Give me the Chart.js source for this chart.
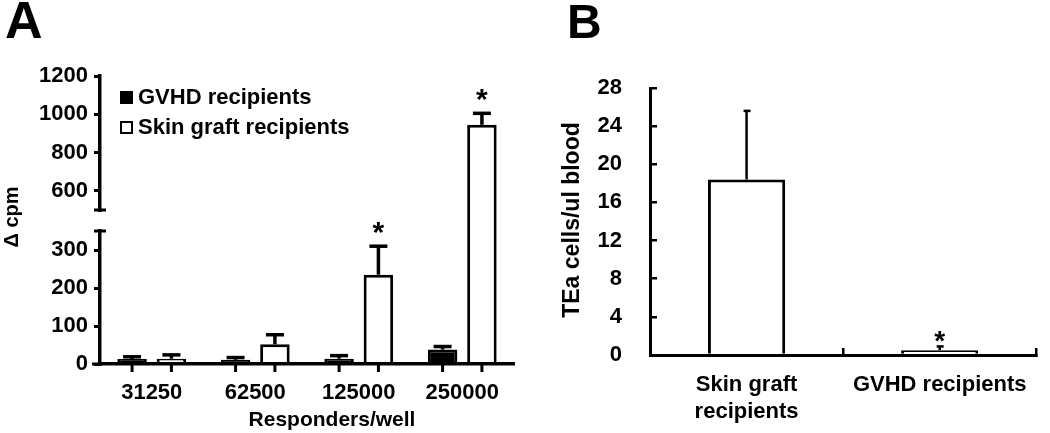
<!DOCTYPE html>
<html>
<head>
<meta charset="utf-8">
<script src="https://cdn.jsdelivr.net/npm/chart.js@4.4.1/dist/chart.umd.min.js"></script>
<style>
  html, body { margin: 0; padding: 0; background: #fff; }
  #wrap { position: relative; width: 1050px; height: 433px; overflow: hidden; }
  .panel { position: absolute; top: 0; height: 433px; }
  #panelA { left: 0; width: 530px; }
  #panelB { left: 530px; width: 520px; }
</style>
</head>
<body>
<div id="wrap">
  <div class="panel" id="panelA"><canvas id="chartA" width="530" height="433"></canvas></div>
  <div class="panel" id="panelB"><canvas id="chartB" width="520" height="433"></canvas></div>
</div>
<script>
// ---- panel A : proliferation (delta cpm) ----
const respondersA = ['31250', '62500', '125000', '250000'];
const gvhdCpm = [13, 11, 14, 38];
const gvhdCpmErr = [6, 6, 8, 8];
const skinCpm = [14, 52, 235, 945];
const skinCpmErr = [10, 25, 75, 60];
const skinStarsA = [false, false, true, true];
const lowTicksA = [0, 100, 200, 300];
const highTicksA = [600, 800, 1000, 1200];

// ---- panel B : TEa cells in blood ----
const groupsB = [['Skin graft', 'recipients'], 'GVHD recipients'];
const teaCells = [18.4, 0.5];
const teaCellsErr = [7.2, 0.4];
const starsB = [false, true];
const ticksB = [0, 4, 8, 12, 16, 20, 24, 28];

const FONT = '"Liberation Sans", Arial, sans-serif';
Chart.defaults.font.family = FONT;
Chart.defaults.font.weight = 'bold';
Chart.defaults.color = '#000';

function barSet(label, data, axis, stack, fill) {
  return {
    label: label, data: data, yAxisID: axis, stack: stack,
    backgroundColor: fill, borderColor: '#000', borderWidth: 3,
    categoryPercentage: 0.76, barPercentage: 0.75
  };
}

// each copy of a series only shows inside its own piece of the broken axis
const clipToAxis = {
  id: 'clipToAxis',
  beforeDatasetDraw(chart, args) {
    const ys = args.meta.yScale, a = chart.chartArea, ctx = chart.ctx;
    ctx.save();
    ctx.beginPath();
    ctx.rect(a.left, ys.top, a.right - a.left, ys.bottom - ys.top);
    ctx.clip();
  },
  afterDatasetDraw(chart) {
    chart.ctx.restore();
  }
};

function line(ctx, x1, y1, x2, y2) {
  ctx.beginPath();
  ctx.moveTo(x1, y1);
  ctx.lineTo(x2, y2);
  ctx.stroke();
}

function fixedTicks(list) {
  return function (s) { s.ticks = list.map(v => ({ value: v })); };
}

const decorA = {
  id: 'decorA',
  afterDraw(chart) {
    const ctx = chart.ctx, a = chart.chartArea;
    const low = chart.scales.yLow, high = chart.scales.yHigh;
    ctx.save();
    ctx.strokeStyle = '#000';
    ctx.fillStyle = '#000';
    ctx.lineWidth = 3;

    // x axis runs a little past the y axis, ticks under every bar
    line(ctx, a.left - 8, a.bottom, a.left, a.bottom);
    [0, 1].forEach(d => {
      chart.getDatasetMeta(d).data.forEach(bar => line(ctx, bar.x, a.bottom, bar.x, a.bottom + 8));
    });

    // break marks
    const ax = low.right;
    line(ctx, ax - 6, high.bottom, ax + 6, high.bottom);
    line(ctx, ax - 6, low.top, ax + 6, low.top);

    // error bars + stars
    const series = [
      { d: 0, vals: gvhdCpm, errs: gvhdCpmErr, stars: null },
      { d: 1, vals: skinCpm, errs: skinCpmErr, stars: skinStarsA }
    ];
    ctx.lineWidth = 3.5;
    series.forEach(s => {
      const meta = chart.getDatasetMeta(s.d);
      s.vals.forEach((v, i) => {
        const x = meta.data[i].x;
        const topVal = v + s.errs[i];
        const sc = topVal > low.max ? high : low;
        const y0 = sc.getPixelForValue(v), y1 = sc.getPixelForValue(topVal);
        line(ctx, x, y0, x, y1);
        line(ctx, x - 9, y1, x + 9, y1);
        if (s.stars && s.stars[i]) {
          ctx.font = 'bold 30px ' + FONT;
          ctx.textAlign = 'center';
          ctx.textBaseline = 'alphabetic';
          ctx.fillText('*', x, y1 - 4);
        }
      });
    });

    // legend
    const ds = chart.data.datasets;
    ctx.font = 'bold 22px ' + FONT;
    ctx.textAlign = 'left';
    ctx.textBaseline = 'middle';
    [0, 1].forEach((d, k) => {
      const y = 98 + k * 30;
      ctx.fillStyle = ds[d].backgroundColor;
      ctx.fillRect(120, y - 7, 13, 13);
      ctx.lineWidth = 2;
      ctx.strokeRect(121, y - 6, 11, 11);
      ctx.fillStyle = '#000';
      ctx.fillText(ds[d].label, 138, y);
    });

    // titles
    ctx.font = 'bold 52px ' + FONT;
    ctx.textBaseline = 'alphabetic';
    ctx.fillText('A', 5, 38);

    ctx.font = 'bold 21px ' + FONT;
    ctx.textAlign = 'center';
    ctx.textBaseline = 'middle';
    ctx.fillText('Responders/well', 332, 420);

    ctx.translate(12, 217);
    ctx.rotate(-Math.PI / 2);
    ctx.font = 'bold 20px ' + FONT;
    ctx.fillText('\u0394 cpm', 0, 0);
    ctx.restore();
  }
};

function yPiece(min, max, stackWeight, weight, ticks) {
  return {
    type: 'linear', position: 'left', stack: 'cpm', stackWeight: stackWeight, weight: weight,
    min: min, max: max, stacked: false,
    afterBuildTicks: ticks ? fixedTicks(ticks) : undefined,
    afterFit: s => { s.width = 100; },
    grid: ticks ? { drawOnChartArea: false, tickLength: 6, color: '#000', lineWidth: 3 } : { display: false },
    border: ticks ? { color: '#000', width: 3.5 } : { display: false },
    ticks: ticks ? { autoSkip: false, padding: 6, font: { size: 22, weight: 'bold' }, callback: v => String(v) } : { display: false }
  };
}

new Chart(document.getElementById('chartA'), {
  type: 'bar',
  data: {
    labels: respondersA,
    datasets: [
      barSet('GVHD recipients', gvhdCpm, 'yLow', 'g', '#000'),
      barSet('Skin graft recipients', skinCpm, 'yLow', 's', '#fff'),
      barSet('GVHD recipients', gvhdCpm, 'yGap', 'g', '#000'),
      barSet('Skin graft recipients', skinCpm, 'yGap', 's', '#fff'),
      barSet('GVHD recipients', gvhdCpm, 'yHigh', 'g', '#000'),
      barSet('Skin graft recipients', skinCpm, 'yHigh', 's', '#fff')
    ]
  },
  options: {
    responsive: false,
    animation: false,
    layout: { padding: { left: 0, top: 76, right: 16, bottom: 0 } },
    plugins: { legend: { display: false }, tooltip: { enabled: false } },
    scales: {
      x: {
        afterFit: s => { s.height = 69; },
        grid: { display: false, drawTicks: false },
        border: { color: '#000', width: 3.5, z: 1 },
        ticks: { autoSkip: false, padding: 16, font: { size: 22, weight: 'bold' } }
      },
      yLow: yPiece(0, 350, 133, 1, lowTicksA),
      yGap: yPiece(350, 500, 21, 2, null),
      yHigh: yPiece(500, 1200, 134, 3, highTicksA)
    }
  },
  plugins: [clipToAxis, decorA]
});

const decorB = {
  id: 'decorB',
  afterDraw(chart) {
    const ctx = chart.ctx;
    const y = chart.scales.y, meta = chart.getDatasetMeta(0);
    ctx.save();
    ctx.strokeStyle = '#000';
    ctx.fillStyle = '#000';
    ctx.lineWidth = 2.5;
    teaCells.forEach((v, i) => {
      const x = meta.data[i].x;
      const y0 = y.getPixelForValue(v), y1 = y.getPixelForValue(v + teaCellsErr[i]);
      line(ctx, x, y0, x, y1);
      line(ctx, x - 3, y1, x + 4, y1);
      if (starsB[i]) {
        ctx.font = 'bold 28px ' + FONT;
        ctx.textAlign = 'center';
        ctx.textBaseline = 'alphabetic';
        ctx.fillText('*', x, y1 + 4);
      }
    });

    ctx.font = 'bold 48px ' + FONT;
    ctx.textAlign = 'left';
    ctx.textBaseline = 'alphabetic';
    ctx.fillText('B', 37, 38);

    ctx.translate(43, 220);
    ctx.rotate(-Math.PI / 2);
    ctx.font = 'bold 23px ' + FONT;
    ctx.textAlign = 'center';
    ctx.textBaseline = 'middle';
    ctx.fillText('TEa cells/ul blood', 0, 0);
    ctx.restore();
  }
};

new Chart(document.getElementById('chartB'), {
  type: 'bar',
  data: {
    labels: groupsB,
    datasets: [{
      label: 'TEa cells/ul blood',
      data: teaCells,
      backgroundColor: '#fff',
      borderColor: '#000',
      borderWidth: 3,
      categoryPercentage: 0.8,
      barPercentage: 0.5
    }]
  },
  options: {
    responsive: false,
    animation: false,
    layout: { padding: { left: 0, top: 88, right: 2, bottom: 0 } },
    plugins: { legend: { display: false }, tooltip: { enabled: false } },
    scales: {
      x: {
        afterFit: s => { s.height = 78; },
        grid: { drawOnChartArea: false, tickLength: -7, color: '#000', lineWidth: 2.5, offset: true },
        border: { color: '#000', width: 3, z: 1 },
        ticks: { autoSkip: false, padding: 23, font: { size: 22, weight: 'bold', lineHeight: 1.25 } }
      },
      y: {
        min: 0, max: 28,
        afterBuildTicks: fixedTicks(ticksB),
        afterFit: s => { s.width = 120; },
        grid: { drawOnChartArea: false, tickLength: -7, color: '#000', lineWidth: 2.5 },
        border: { color: '#000', width: 3 },
        ticks: { autoSkip: false, padding: 35, font: { size: 22, weight: 'bold' }, callback: v => String(v) }
      }
    }
  },
  plugins: [decorB]
});
</script>
</body>
</html>
